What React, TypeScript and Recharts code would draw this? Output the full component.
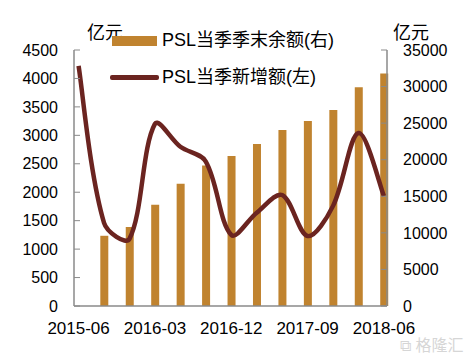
import React from "react";
import { ComposedChart, Bar, Line, XAxis, YAxis } from "recharts";

// quarterly data, 2015-06 .. 2018-06
const quarters = [
  "2015-06", "2015-09", "2015-12", "2016-03", "2016-06", "2016-09", "2016-12",
  "2017-03", "2017-06", "2017-09", "2017-12", "2018-03", "2018-06",
];
// PSL balance at quarter end (right axis, 亿元)
const balance = [
  null, 9600, 10800, 13850, 16700, 19200, 20500,
  22150, 24050, 25300, 26800, 29900, 31800,
];
// PSL new in quarter (left axis, 亿元)
const newAdded = [
  4220, 1460, 1180, 3200, 2800, 2540, 1250,
  1640, 1950, 1230, 1760, 3040, 1930,
];
const xTicks = [0, 3, 6, 9, 12];
const leftTicks = [0, 500, 1000, 1500, 2000, 2500, 3000, 3500, 4000, 4500];
const rightTicks = [0, 5000, 10000, 15000, 20000, 25000, 30000, 35000];

const BAR = "#C0832F";
const LINE = "#6B2420";
const AXIS = "#8A8A8A";
const TICK_FONT = { fill: "#000", fontSize: 16, fontFamily: "Liberation Sans, Arial, sans-serif" };
const CJK = "'Liberation Sans', 'Noto Sans CJK SC', sans-serif";

// excel-like smoothed line: bezier through the points, tangents weighted by segment length
const smoothCurve = (context: any) => {
  let xs: number[] = [];
  let ys: number[] = [];
  return {
    areaStart() {},
    areaEnd() {},
    lineStart() {
      xs = [];
      ys = [];
    },
    point(x: number, y: number) {
      xs.push(+x);
      ys.push(+y);
    },
    lineEnd() {
      const n = xs.length;
      if (!n) return;
      const len = (i: number, j: number) => Math.hypot(xs[j] - xs[i], ys[j] - ys[i]);
      // outgoing / incoming control offsets at each point
      const outX: number[] = [], outY: number[] = [], inX: number[] = [], inY: number[] = [];
      for (let i = 0; i < n; i++) {
        const a = Math.max(i - 1, 0);
        const b = Math.min(i + 1, n - 1);
        const dx = xs[b] - xs[a];
        const dy = ys[b] - ys[a];
        const lp = i > 0 ? len(i - 1, i) : 0;
        const ln = i < n - 1 ? len(i, i + 1) : 0;
        const tot = lp + ln || 1;
        const kOut = i === 0 || i === n - 1 ? 1 / 3 : (ln / tot) / 3 * 1;
        const kIn = i === 0 || i === n - 1 ? 1 / 3 : (lp / tot) / 3 * 1;
        outX.push(xs[i] + dx * kOut * (i === 0 ? 0.5 : 1));
        outY.push(ys[i] + dy * kOut * (i === 0 ? 0.5 : 1));
        inX.push(xs[i] - dx * kIn * (i === n - 1 ? 0.5 : 1));
        inY.push(ys[i] - dy * kIn * (i === n - 1 ? 0.5 : 1));
      }
      context.moveTo(xs[0], ys[0]);
      for (let i = 0; i < n - 1; i++) {
        context.bezierCurveTo(outX[i], outY[i], inX[i + 1], inY[i + 1], xs[i + 1], ys[i + 1]);
      }
    },
  };
};

const data = quarters.map((q, i) => ({
  idx: i,
  quarter: q,
  balance: balance[i],
  added: newAdded[i],
}));

const label = (left: number, top: number, text: string) => (
  <div
    style={{
      position: "absolute",
      left,
      top,
      fontSize: 18,
      fontFamily: CJK,
      color: "#000",
      whiteSpace: "nowrap",
      lineHeight: "20px",
    }}
  >
    {text}
  </div>
);

export default function App() {
  return (
    <div style={{ position: "absolute", left: 0, top: 0, width: 472, height: 357, background: "#fff" }}>
      <ComposedChart
        width={472}
        height={357}
        data={data}
        margin={{ top: 50, right: 0, bottom: 0, left: 0 }}
      >
        <XAxis
          type="number"
          dataKey="idx"
          domain={[-0.18, 12.12]}
          ticks={xTicks}
          tickFormatter={(v) => quarters[v]}
          height={51}
          tickLine={false}
          tickSize={0}
          tickMargin={16}
          axisLine={{ stroke: AXIS, strokeWidth: 1.5 }}
          tick={{ ...TICK_FONT, fontSize: 17 }}
          interval={0}
        />
        <YAxis
          yAxisId="left"
          domain={[0, 4500]}
          ticks={leftTicks}
          width={74}
          tickSize={-6}
          tickMargin={22}
          axisLine={{ stroke: AXIS, strokeWidth: 1.5 }}
          tickLine={{ stroke: AXIS }}
          tick={TICK_FONT}
          interval={0}
        />
        <YAxis
          yAxisId="right"
          orientation="right"
          domain={[0, 35000]}
          ticks={rightTicks}
          width={85}
          tickSize={-6}
          tickMargin={22}
          axisLine={{ stroke: AXIS, strokeWidth: 1.5 }}
          tickLine={{ stroke: AXIS }}
          tick={TICK_FONT}
          interval={0}
        />
        <Bar
          yAxisId="right"
          dataKey="balance"
          fill={BAR}
          barSize={8}
          isAnimationActive={false}
        />
        <Line
          yAxisId="left"
          dataKey="added"
          type={smoothCurve as any}
          stroke={LINE}
          strokeWidth={4.5}
          dot={false}
          activeDot={false}
          isAnimationActive={false}
        />
      </ComposedChart>

      {label(87, 23, "亿元")}
      {label(393, 23, "亿元")}

      <div style={{ position: "absolute", left: 112, top: 36, width: 45, height: 10, background: BAR }} />
      {label(162, 30, "PSL当季季末余额(右)")}
      <div
        style={{
          position: "absolute",
          left: 110,
          top: 75,
          width: 49,
          height: 5,
          borderRadius: 2,
          background: LINE,
        }}
      />
      {label(162, 67, "PSL当季新增额(左)")}

      <div
        style={{
          position: "absolute",
          left: 400,
          top: 332,
          fontSize: 16,
          fontFamily: CJK,
          color: "#d6d6d6",
          whiteSpace: "nowrap",
        }}
      >
        ⧉ 格隆汇
      </div>
    </div>
  );
}
